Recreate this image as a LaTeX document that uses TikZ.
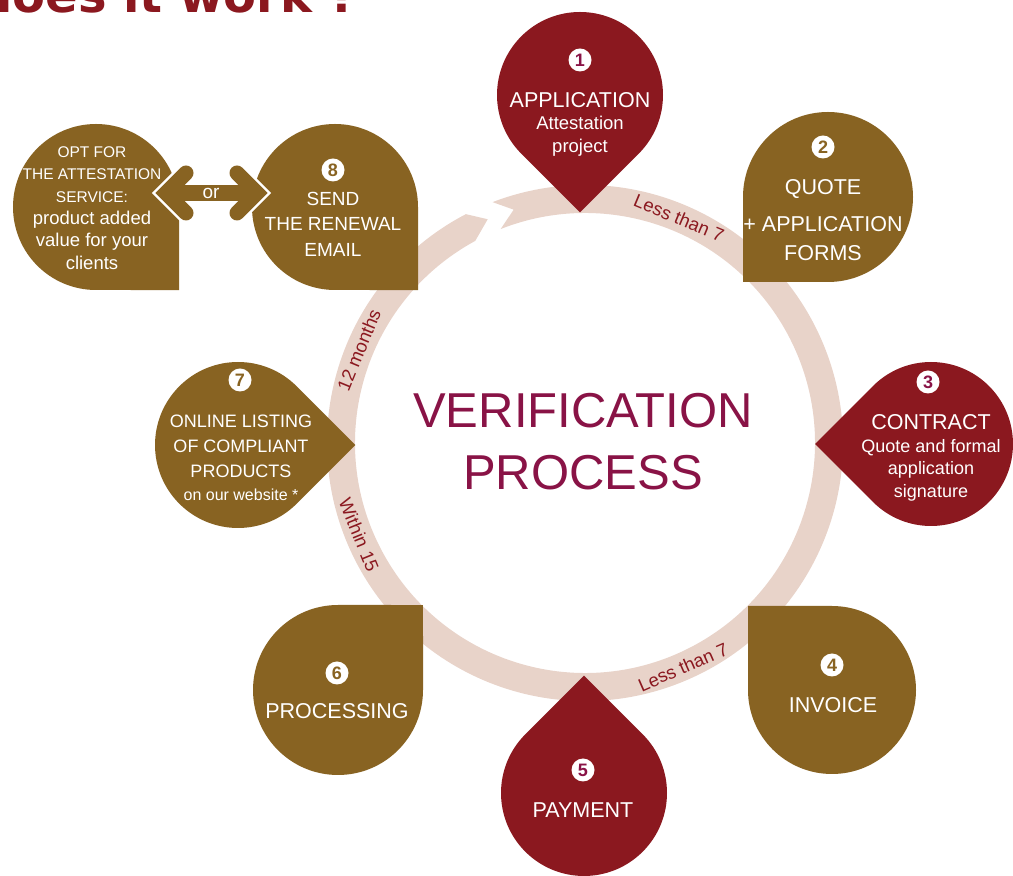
\documentclass[tikz,border=0pt]{standalone}
\usepackage{fontspec}
\setmainfont{Liberation Sans}
\newfontfamily\howfont{DejaVu Sans}
\usetikzlibrary{calc}
\definecolor{wine}{RGB}{139,24,31}
\definecolor{ochre}{RGB}{136,99,34}
\definecolor{ringc}{RGB}{232,211,201}
\definecolor{plum}{RGB}{137,19,70}

\begin{document}
\begin{tikzpicture}[x=1pt, y=1pt,
    lbl/.style={text=white, align=center, inner sep=0pt},
    num/.style={circle, fill=white, inner sep=0pt, minimum size=23pt, font=\fontsize{18}{18}\selectfont\bfseries},
    arclbl/.style={text=wine, inner sep=0pt, font=\fontsize{18.5}{18.5}\selectfont},
]
\useasboundingbox (0,0) rectangle (1013,876);
\clip (0,0) rectangle (1013,876);

% Title, cut by the top edge
\node[anchor=base west, inner sep=0pt, text=wine, font=\howfont\bfseries\fontsize{48}{48}\selectfont] (howto) at (-22,863) {does it work ?};

% Ring with the chevron gap
\fill[ringc, shift={(585,433)}] (111:258) arc[start angle=111, end angle=-242.5, radius=258]
    -- (113.5:244) -- (118.5:230) arc[start angle=-241.5, end angle=111.5, radius=230]
    -- (107:244) -- cycle;

% Labels on the ring
\node[arclbl, rotate=-22.6] (lt-a) at (679,658) {Less than 7};
\node[arclbl, rotate=23.6] (lt-b) at (683,209) {Less than 7};
\node[arclbl, rotate=67.7] (mo12) at (359,526) {12 months};
\node[arclbl, rotate=-67.8] (w15) at (359,341) {Within 15};

% Centre
\node[text=plum, align=center, inner sep=0pt, font=\fontsize{49}{62}\selectfont] (title) at (583,434) {VERIFICATION\\PROCESS};

% 1 Application
\fill[wine, shift={(580,781)}, rotate=-90] (117.4,0) -- (45:83) arc[start angle=45, end angle=315, radius=83] -- cycle;
\node[num, text=plum] (num1) at (580,816) {1};
\node[lbl, font=\fontsize{18.5}{22.5}\selectfont] (app) at (580,752) {{\fontsize{21.5}{22.5}\selectfont APPLICATION}\\Attestation\\project};

% 2 Quote
\fill[ochre, shift={(828,679)}, rotate=225] (120.2,0) -- (45:85) arc[start angle=45, end angle=315, radius=85] -- cycle;
\node[num, text=ochre] (num2) at (823,729) {2};
\node[lbl, font=\fontsize{21.5}{29}\selectfont] (quote) at (823,656) {QUOTE\\[8pt]+ APPLICATION\\FORMS};

% 3 Contract
\fill[wine, shift={(931,432)}, rotate=180] (116,0) -- (45:82) arc[start angle=45, end angle=315, radius=82] -- cycle;
\node[num, text=plum] (num3) at (928,494) {3};
\node[lbl, font=\fontsize{18}{22.5}\selectfont] (contract) at (931,418) {{\fontsize{21.5}{22.5}\selectfont CONTRACT}\\Quote and formal\\application\\signature};

% 4 Invoice
\fill[ochre, shift={(832,186)}, rotate=135] (118.8,0) -- (45:84) arc[start angle=45, end angle=315, radius=84] -- cycle;
\node[num, text=ochre] (num4) at (832,211) {4};
\node[lbl, font=\fontsize{21.5}{22.5}\selectfont] (invoice) at (833,171) {INVOICE};

% 5 Payment
\fill[wine, shift={(584,83)}, rotate=90] (117.4,0) -- (45:83) arc[start angle=45, end angle=315, radius=83] -- cycle;
\node[num, text=plum] (num5) at (583,106) {5};
\node[lbl, font=\fontsize{21.5}{22.5}\selectfont] (payment) at (583,66) {PAYMENT};

% 6 Processing
\fill[ochre, shift={(338,186)}, rotate=45] (120.2,0) -- (45:85) arc[start angle=45, end angle=315, radius=85] -- cycle;
\node[num, text=ochre] (num6) at (337,203) {6};
\node[lbl, font=\fontsize{21.5}{22.5}\selectfont] (processing) at (337,165) {PROCESSING};

% 7 Online listing
\fill[ochre, shift={(238,431)}] (117.4,0) -- (45:83) arc[start angle=45, end angle=315, radius=83] -- cycle;
\node[num, text=ochre] (num7) at (240,496) {7};
\node[lbl, font=\fontsize{18}{25}\selectfont] (listing) at (241,418) {ONLINE LISTING\\OF COMPLIANT\\PRODUCTS\\[-2pt]{\fontsize{16}{23}\selectfont on our website *}};

% 8 Renewal
\fill[ochre, shift={(335,669)}, rotate=-45] (117.4,0) -- (45:83) arc[start angle=45, end angle=315, radius=83] -- cycle;
\node[num, text=ochre] (num8) at (333,706) {8};
\node[lbl, font=\fontsize{19}{25.5}\selectfont] (renewal) at (333,652) {SEND\\THE RENEWAL\\EMAIL};

% Attestation option
\fill[ochre, shift={(96,669)}, rotate=-45] (117.4,0) -- (45:83) arc[start angle=45, end angle=315, radius=83] -- cycle;
\node[lbl, font=\fontsize{18.5}{22.4}\selectfont] (opt) at (92,668) {{\fontsize{15.5}{22.4}\selectfont OPT FOR}\\{\fontsize{15.5}{22.4}\selectfont THE ATTESTATION}\\{\fontsize{15.5}{22.4}\selectfont SERVICE:}\\product added\\value for your\\clients};

% Double arrow "or"
\coordinate (or-l) at (166,683);
\coordinate (or-r) at (257,683);
\draw[white, line width=21] (or-l) -- (or-r);
\draw[white, line width=20, line cap=round] ($(or-l)+(20,20)$) -- (or-l) -- ($(or-l)+(20,-20)$);
\draw[white, line width=20, line cap=round] ($(or-r)+(-20,20)$) -- (or-r) -- ($(or-r)+(-20,-20)$);
\draw[ochre, line width=16] (or-l) -- (or-r);
\draw[ochre, line width=15, line cap=round] ($(or-l)+(20,20)$) -- (or-l) -- ($(or-l)+(20,-20)$);
\draw[ochre, line width=15, line cap=round] ($(or-r)+(-20,20)$) -- (or-r) -- ($(or-r)+(-20,-20)$);
\node[text=white, inner sep=0pt, font=\fontsize{19}{19}\selectfont] (or) at (211,683) {or};

\end{tikzpicture}
\end{document}
